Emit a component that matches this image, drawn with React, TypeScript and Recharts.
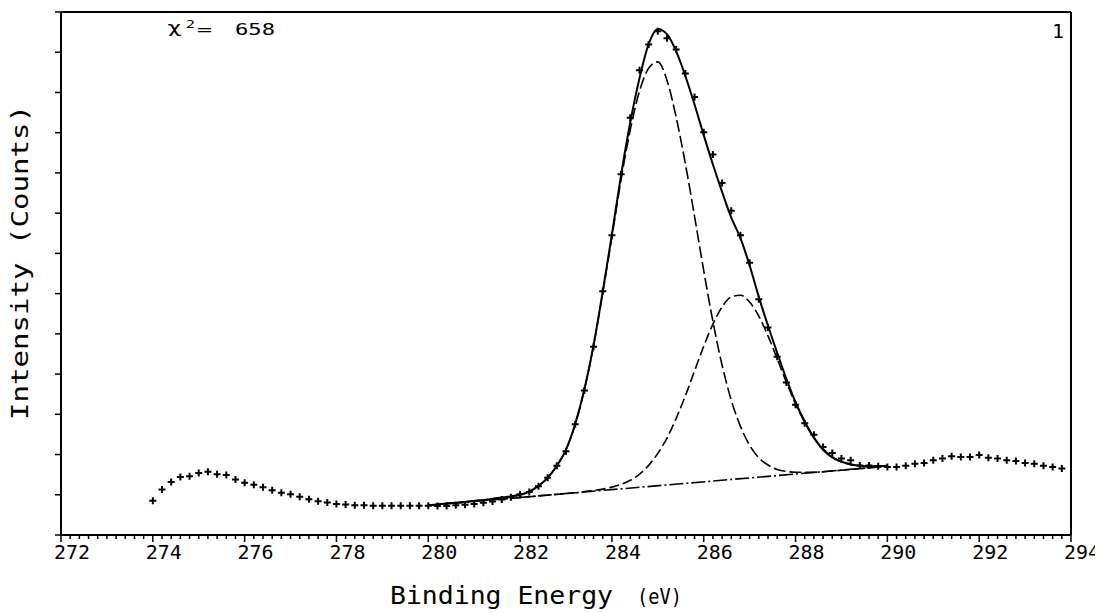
import React from 'react';
import { ComposedChart, Line, Scatter, XAxis, YAxis, ReferenceLine } from 'recharts';

// Measured data points (crosses): binding energy (eV) and intensity (axis units 0..13)
const energy = [
  274.0, 274.2, 274.4, 274.6, 274.8, 275.0, 275.2, 275.4, 275.6, 275.8,
  276.0, 276.2, 276.4, 276.6, 276.8, 277.0, 277.2, 277.4, 277.6, 277.8,
  278.0, 278.2, 278.4, 278.6, 278.8, 279.0, 279.2, 279.4, 279.6, 279.8,
  280.0, 280.2, 280.4, 280.6, 280.8, 281.0, 281.2, 281.4, 281.6, 281.8,
  282.0, 282.2, 282.4, 282.6, 282.8, 283.0, 283.2, 283.4, 283.6, 283.8,
  284.0, 284.2, 284.4, 284.6, 284.8, 285.0, 285.2, 285.4, 285.6, 285.8,
  286.0, 286.2, 286.4, 286.6, 286.8, 287.0, 287.2, 287.4, 287.6, 287.8,
  288.0, 288.2, 288.4, 288.6, 288.8, 289.0, 289.2, 289.4, 289.6, 289.8,
  290.0, 290.2, 290.4, 290.6, 290.8, 291.0, 291.2, 291.4, 291.6, 291.8,
  292.0, 292.2, 292.4, 292.6, 292.8, 293.0, 293.2, 293.4, 293.6, 293.8,
];
const counts = [
  0.85, 1.13, 1.32, 1.44, 1.46, 1.54, 1.57, 1.51, 1.49, 1.38,
  1.30, 1.25, 1.19, 1.11, 1.05, 1.01, 0.95, 0.89, 0.84, 0.81,
  0.77, 0.76, 0.74, 0.74, 0.73, 0.73, 0.73, 0.73, 0.73, 0.73,
  0.73, 0.72, 0.72, 0.74, 0.75, 0.77, 0.80, 0.83, 0.88, 0.94,
  1.01, 1.07, 1.21, 1.42, 1.72, 2.08, 2.75, 3.59, 4.68, 6.06,
  7.45, 8.97, 10.37, 11.55, 12.19, 12.52, 12.35, 12.07, 11.47, 10.89,
  10.01, 9.46, 8.75, 8.06, 7.45, 6.77, 5.86, 5.16, 4.43, 3.79,
  3.24, 2.78, 2.49, 2.19, 2.04, 1.90, 1.86, 1.73, 1.73, 1.71,
  1.69, 1.69, 1.72, 1.77, 1.79, 1.86, 1.90, 1.96, 1.94, 1.94,
  1.99, 1.92, 1.90, 1.86, 1.84, 1.79, 1.77, 1.72, 1.69, 1.65,
];

// Fit curves, 280..290 eV
const fitEnergy = [
  280.0, 280.2, 280.4, 280.6, 280.8, 281.0, 281.2, 281.4, 281.6, 281.8,
  282.0, 282.2, 282.4, 282.6, 282.8, 283.0, 283.2, 283.4, 283.6, 283.8,
  284.0, 284.2, 284.4, 284.6, 284.8, 285.0, 285.2, 285.4, 285.6, 285.8,
  286.0, 286.2, 286.4, 286.6, 286.8, 287.0, 287.2, 287.4, 287.6, 287.8,
  288.0, 288.2, 288.4, 288.6, 288.8, 289.0, 289.2, 289.4, 289.6, 289.8,
  290.0,
];
const fitTotal = [
  0.74, 0.76, 0.78, 0.80, 0.82, 0.85, 0.87, 0.90, 0.93, 0.96,
  1.00, 1.08, 1.22, 1.42, 1.72, 2.12, 2.76, 3.62, 4.72, 6.05,
  7.47, 8.95, 10.26, 11.35, 12.20, 12.58, 12.45, 12.02, 11.41, 10.70,
  9.94, 9.21, 8.53, 7.89, 7.38, 6.70, 5.92, 5.20, 4.53, 3.88,
  3.30, 2.82, 2.42, 2.12, 1.93, 1.82, 1.76, 1.72, 1.70, 1.71,
  1.72,
];
const peakC1 = [
  0.74, 0.76, 0.78, 0.80, 0.82, 0.85, 0.87, 0.90, 0.93, 0.96,
  1.00, 1.08, 1.22, 1.42, 1.72, 2.12, 2.75, 3.61, 4.70, 6.02,
  7.41, 8.84, 10.07, 11.03, 11.60, 11.76, 11.30, 10.38, 9.23, 7.92,
  6.57, 5.31, 4.22, 3.35, 2.70, 2.23, 1.92, 1.74, 1.63, 1.58,
  1.56, 1.56, 1.56, 1.57, 1.59, 1.61, 1.63, 1.65, 1.67, 1.69,
  1.71,
];
const peakC2 = [
  0.74, 0.76, 0.78, 0.80, 0.82, 0.84, 0.86, 0.88, 0.90, 0.91,
  0.93, 0.95, 0.97, 0.99, 1.01, 1.03, 1.05, 1.08, 1.11, 1.14,
  1.19, 1.26, 1.36, 1.51, 1.73, 2.03, 2.41, 2.90, 3.46, 4.08,
  4.69, 5.24, 5.67, 5.92, 5.96, 5.79, 5.44, 4.95, 4.38, 3.80,
  3.26, 2.80, 2.41, 2.14, 1.94, 1.82, 1.75, 1.72, 1.70, 1.71,
  1.72,
];
const bgEnergy = [280, 290];
const bgValues = [0.74, 1.71];

const majorTicks = [272, 274, 276, 278, 280, 282, 284, 286, 288, 290, 292, 294];
const minorTicks = Array.from({ length: 111 }, (_, i) => Math.round((272 + i * 0.2) * 10) / 10);
const yTicks = [0, 1, 2, 3, 4, 5, 6, 7, 8, 9, 10, 11, 12, 13];

const FONT = '"DejaVu Sans Mono", monospace';

const pointData = energy.map((x, i) => ({ x, y: counts[i] }));
const totalData = fitEnergy.map((x, i) => ({ x, y: fitTotal[i] }));
const c1Data = fitEnergy.map((x, i) => ({ x, y: peakC1[i] }));
const c2Data = fitEnergy.map((x, i) => ({ x, y: peakC2[i] }));
const bgData = bgEnergy.map((x, i) => ({ x, y: bgValues[i] }));

const Cross = (props: any) => {
  const { cx, cy } = props;
  if (cx == null || cy == null) return <g />;
  return (
    <path
      d={`M${cx - 3.5},${cy}H${cx + 3.5}M${cx},${cy - 3.5}V${cy + 3.5}`}
      stroke="#000"
      strokeWidth={2}
      fill="none"
    />
  );
};

const XTick = (props: any) => {
  const { x, y, payload } = props;
  const v = payload.value;
  const isMajor = majorTicks.some((m) => Math.abs(m - v) < 1e-6);
  return (
    <g>
      <line x1={x} x2={x} y1={y} y2={y + (isMajor ? 7 : 4)} stroke="#000" strokeWidth={1.5} />
      {isMajor && (
        <text
          x={x + 11}
          y={y + 24}
          textAnchor="middle"
          fontFamily={FONT}
          fontSize={19}
          textLength={36}
          lengthAdjust="spacingAndGlyphs"
          fill="#000"
        >
          {String(Math.round(v))}
        </text>
      )}
    </g>
  );
};

const YTick = (props: any) => {
  const { x, y } = props;
  return <line x1={x - 6} x2={x} y1={y} y2={y} stroke="#000" strokeWidth={1.5} />;
};

const XLabel = () => (
  <g>
    <text x={390} y={604} fontFamily={FONT} fontSize={24} textLength={223} lengthAdjust="spacingAndGlyphs" fill="#000">
      Binding Energy
    </text>
    <text x={637} y={604} fontFamily={FONT} fontSize={21} textLength={45} lengthAdjust="spacingAndGlyphs" fill="#000">
      (eV)
    </text>
  </g>
);

const YLabel = () => (
  <text
    transform="translate(28,262.5) rotate(-90)"
    textAnchor="middle"
    fontFamily={FONT}
    fontSize={23}
    textLength={315}
    lengthAdjust="spacingAndGlyphs"
    fill="#000"
  >
    Intensity (Counts)
  </text>
);

export default function App() {
  return (
    <div style={{ position: 'relative', width: 1103, height: 613, margin: '-8px 0 0 -8px', background: '#fff' }}>
      <ComposedChart
        width={1103}
        height={613}
        margin={{ top: 12, right: 32, bottom: 8, left: 21 }}
      >
        <XAxis
          dataKey="x"
          type="number"
          domain={[272, 294]}
          ticks={minorTicks}
          interval={0}
          allowDataOverflow
          height={70}
          tickSize={0}
          tickMargin={0}
          tickLine={false}
          tick={<XTick />}
          axisLine={{ stroke: '#000', strokeWidth: 2 }}
          label={<XLabel />}
        />
        <YAxis
          dataKey="y"
          type="number"
          domain={[0, 13]}
          ticks={yTicks}
          interval={0}
          allowDataOverflow
          width={40}
          tickSize={0}
          tickMargin={0}
          tickLine={false}
          tick={<YTick />}
          axisLine={{ stroke: '#000', strokeWidth: 2 }}
          label={<YLabel />}
        />
        <ReferenceLine y={13} stroke="#000" strokeWidth={2} />
        <ReferenceLine x={294} stroke="#000" strokeWidth={2} />
        <Line
          data={bgData}
          dataKey="y"
          type="linear"
          stroke="#000"
          strokeWidth={1.6}
          strokeDasharray="14 3 2 3"
          dot={false}
          activeDot={false}
          isAnimationActive={false}
        />
        <Line
          data={c1Data}
          dataKey="y"
          type="monotone"
          stroke="#000"
          strokeWidth={1.6}
          strokeDasharray="12 4"
          dot={false}
          activeDot={false}
          isAnimationActive={false}
        />
        <Line
          data={c2Data}
          dataKey="y"
          type="monotone"
          stroke="#000"
          strokeWidth={1.6}
          strokeDasharray="10 4"
          dot={false}
          activeDot={false}
          isAnimationActive={false}
        />
        <Line
          data={totalData}
          dataKey="y"
          type="monotone"
          stroke="#000"
          strokeWidth={2}
          dot={false}
          activeDot={false}
          isAnimationActive={false}
        />
        <Scatter data={pointData} dataKey="y" shape={<Cross />} isAnimationActive={false} />
      </ComposedChart>
      <svg
        width={1103}
        height={613}
        style={{ position: 'absolute', left: 0, top: 0, pointerEvents: 'none' }}
      >
        <text x={167} y={33} fontFamily={FONT} fontSize={16} textLength={15} lengthAdjust="spacingAndGlyphs" fill="#000">
          χ
        </text>
        <text x={186} y={28} fontFamily={FONT} fontSize={11} textLength={9} lengthAdjust="spacingAndGlyphs" fill="#000">
          2
        </text>
        <text x={197} y={35} fontFamily={FONT} fontSize={16} textLength={15} lengthAdjust="spacingAndGlyphs" fill="#000">
          =
        </text>
        <text x={235} y={35} fontFamily={FONT} fontSize={15} textLength={40} lengthAdjust="spacingAndGlyphs" fill="#000">
          658
        </text>
        <text x={1058} y={38} textAnchor="middle" fontFamily={FONT} fontSize={20} fill="#000">
          1
        </text>
      </svg>
    </div>
  );
}
